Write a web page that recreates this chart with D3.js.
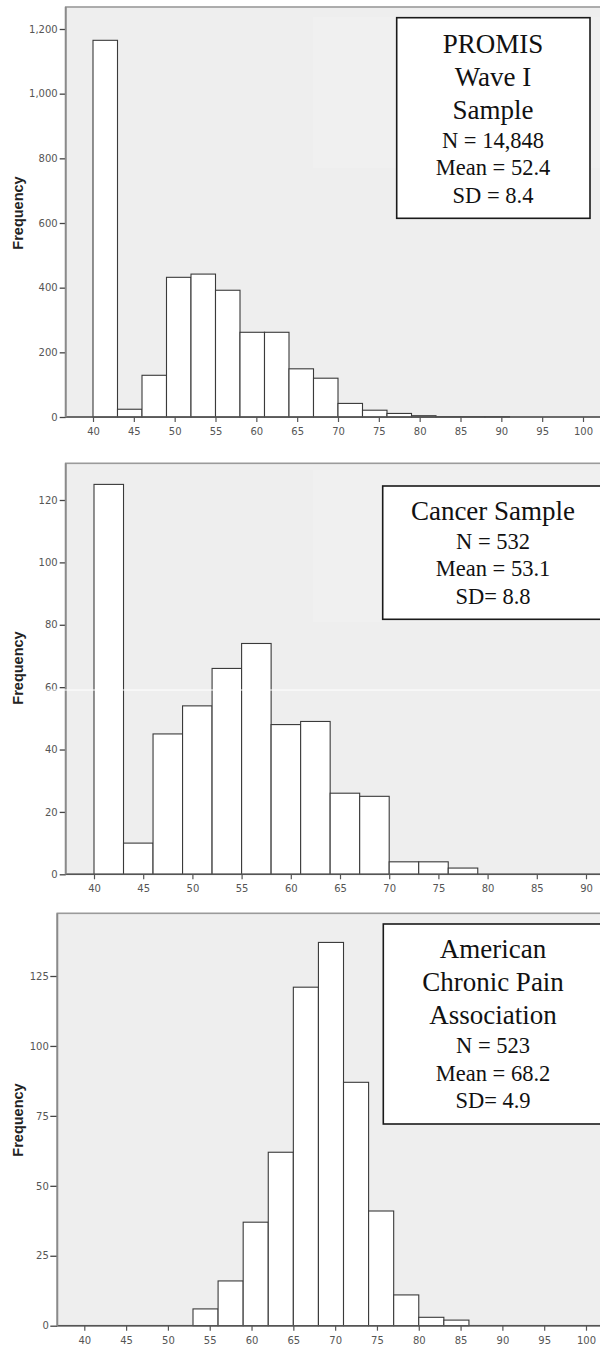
<!DOCTYPE html>
<html>
<head>
<meta charset="utf-8">
<script src="https://cdnjs.cloudflare.com/ajax/libs/d3/7.8.5/d3.min.js"></script>
<style>
  html, body { margin: 0; padding: 0; background: #ffffff; }
  svg { display: block; }
</style>
</head>
<body>
<div id="chart"></div>
<script>
// ---------------- DATA ----------------
const binWidth = 3;

// Panel 1: PROMIS Wave I Sample
const binStarts1 = [40, 43, 46, 49, 52, 55, 58, 61, 64, 67, 70, 73, 76, 79, 82, 85, 88];
const freq1      = [1165, 24, 129, 432, 442, 392, 262, 262, 149, 120, 42, 21, 11, 4, 1, 1, 1];
const xTicks1 = [40, 45, 50, 55, 60, 65, 70, 75, 80, 85, 90, 95, 100];
const yTicks1 = [0, 200, 400, 600, 800, 1000, 1200];
const titleLines1 = ["PROMIS", "Wave I", "Sample"];
const statLines1  = ["N = 14,848", "Mean = 52.4", "SD = 8.4"];

// Panel 2: Cancer Sample
const binStarts2 = [40, 43, 46, 49, 52, 55, 58, 61, 64, 67, 70, 73, 76];
const freq2      = [125, 10, 45, 54, 66, 74, 48, 49, 26, 25, 4, 4, 2];
const xTicks2 = [40, 45, 50, 55, 60, 65, 70, 75, 80, 85, 90];
const yTicks2 = [0, 20, 40, 60, 80, 100, 120];
const titleLines2 = ["Cancer Sample"];
const statLines2  = ["N = 532", "Mean = 53.1", "SD= 8.8"];

// Panel 3: American Chronic Pain Association
const binStarts3 = [53, 56, 59, 62, 65, 68, 71, 74, 77, 80, 83];
const freq3      = [6, 16, 37, 62, 121, 137, 87, 41, 11, 3, 2];
const xTicks3 = [40, 45, 50, 55, 60, 65, 70, 75, 80, 85, 90, 95, 100];
const yTicks3 = [0, 25, 50, 75, 100, 125];
const titleLines3 = ["American", "Chronic Pain", "Association"];
const statLines3  = ["N = 523", "Mean = 68.2", "SD= 4.9"];

const yLabel = "Frequency";

// ---------------- LAYOUT ----------------
const W = 600, H = 1347;
const svg = d3.select("#chart").append("svg")
  .attr("width", W).attr("height", H)
  .attr("viewBox", `0 0 ${W} ${H}`);

svg.append("rect").attr("width", W).attr("height", H).attr("fill", "#ffffff");

const panels = [
  {
    starts: binStarts1, freq: freq1, xTicks: xTicks1, yTicks: yTicks1,
    titles: titleLines1, stats: statLines1,
    xDomain: [40, 100], xRange: [93, 583],
    yDomain: [0, 1200], yRange: [417, 29],
    frameLeft: 65.7, frameTop: 7,
    tickLenY: 6, tickPadY: 2,
    labelY: 213,
    box: { x: 396.7, y: 17.7, w: 193.3, h: 200.6 },
    light: { x: 313, y: 17, w: 300, h: 151 },
    textX: 493, firstBaseline: 52.7
  },
  {
    starts: binStarts2, freq: freq2, xTicks: xTicks2, yTicks: yTicks2,
    titles: titleLines2, stats: statLines2,
    xDomain: [40, 90], xRange: [94, 586],
    yDomain: [0, 120], yRange: [874.3, 500],
    frameLeft: 65.7, frameTop: 463.3,
    tickLenY: 6, tickPadY: 2,
    labelY: 668,
    box: { x: 382.7, y: 486, w: 220, h: 133.3 },
    light: { x: 313, y: 470, w: 300, h: 152 },
    textX: 493, firstBaseline: 520,
    artifactY: 690
  },
  {
    starts: binStarts3, freq: freq3, xTicks: xTicks3, yTicks: yTicks3,
    titles: titleLines3, stats: statLines3,
    xDomain: [40, 100], xRange: [84.3, 586],
    yDomain: [0, 125], yRange: [1325.7, 976],
    frameLeft: 57.3, frameTop: 913.3,
    tickLenY: 7, tickPadY: 1.5,
    labelY: 1120,
    box: { x: 383.3, y: 924, w: 220, h: 200 },
    light: null,
    textX: 493, firstBaseline: 958.3
  }
];

panels.forEach(p => {
  const x = d3.scaleLinear().domain(p.xDomain).range(p.xRange);
  const y = d3.scaleLinear().domain(p.yDomain).range(p.yRange);
  const base = y(0);
  const g = svg.append("g");

  // plot background + frame
  g.append("rect")
    .attr("x", p.frameLeft).attr("y", p.frameTop)
    .attr("width", W + 10 - p.frameLeft).attr("height", base - p.frameTop)
    .attr("fill", "#eeeeee")
    .attr("stroke", "#9a9a9a").attr("stroke-width", 1.6);

  if (p.light) {
    g.append("rect")
      .attr("x", p.light.x).attr("y", p.light.y)
      .attr("width", p.light.w).attr("height", p.light.h)
      .attr("fill", "#f0f0f0");
  }

  // bars
  g.append("g").selectAll("rect")
    .data(p.starts.map((s, i) => ({ s, f: p.freq[i] })))
    .join("rect")
    .attr("x", d => x(d.s))
    .attr("y", d => y(d.f))
    .attr("width", d => x(d.s + binWidth) - x(d.s))
    .attr("height", d => base - y(d.f))
    .attr("fill", "#ffffff")
    .attr("stroke", "#3a3a3a")
    .attr("stroke-width", 1.1);

  // y axis
  const ya = g.append("g")
    .attr("transform", `translate(${p.frameLeft},0)`)
    .call(d3.axisLeft(y).tickValues(p.yTicks).tickFormat(d3.format(","))
      .tickSize(p.tickLenY).tickPadding(p.tickPadY));
  ya.select(".domain").remove();
  ya.selectAll(".tick line").attr("stroke", "#444").attr("stroke-width", 1.3);
  ya.selectAll(".tick text")
    .attr("fill", "#555")
    .style("font-family", "'DejaVu Sans', sans-serif")
    .style("font-size", "10px");

  // x axis
  const xa = g.append("g")
    .attr("transform", `translate(0,${base})`)
    .call(d3.axisBottom(x).tickValues(p.xTicks).tickSize(5).tickPadding(6));
  xa.select(".domain").remove();
  xa.selectAll(".tick line").attr("stroke", "#555").attr("stroke-width", 1.2);
  xa.selectAll(".tick text")
    .attr("fill", "#555")
    .style("font-family", "'DejaVu Sans', sans-serif")
    .style("font-size", "10px");

  // axis lines
  g.append("line")
    .attr("x1", p.frameLeft).attr("x2", W + 5)
    .attr("y1", base).attr("y2", base)
    .attr("stroke", "#555").attr("stroke-width", 1.4);
  g.append("line")
    .attr("x1", p.frameLeft).attr("x2", p.frameLeft)
    .attr("y1", p.frameTop).attr("y2", base)
    .attr("stroke", "#8a8a8a").attr("stroke-width", 1.8);

  // y label
  g.append("text")
    .attr("transform", `translate(18,${p.labelY}) rotate(-90)`)
    .attr("text-anchor", "middle")
    .attr("dominant-baseline", "central")
    .attr("fill", "#222")
    .style("font-family", "'Liberation Sans', Arial, sans-serif")
    .style("font-weight", "bold")
    .style("font-size", "14.5px")
    .text(yLabel);

  // stats box
  g.append("rect")
    .attr("x", p.box.x).attr("y", p.box.y)
    .attr("width", p.box.w).attr("height", p.box.h)
    .attr("fill", "#ffffff")
    .attr("stroke", "#1a1a1a").attr("stroke-width", 1.6);

  const titleStep = 33, gap = 29, statStep = 27.4;
  const tg = g.append("g")
    .style("font-family", "'Liberation Serif', 'Times New Roman', serif")
    .attr("fill", "#111")
    .attr("text-anchor", "middle");
  p.titles.forEach((t, i) => {
    tg.append("text")
      .attr("x", p.textX)
      .attr("y", p.firstBaseline + i * titleStep)
      .style("font-size", "27px")
      .text(t);
  });
  const lastTitle = p.firstBaseline + (p.titles.length - 1) * titleStep;
  p.stats.forEach((t, i) => {
    tg.append("text")
      .attr("x", p.textX)
      .attr("y", lastTitle + gap + i * statStep)
      .style("font-size", "22.5px")
      .text(t);
  });

  if (p.artifactY) {
    g.append("line")
      .attr("x1", 30).attr("x2", W)
      .attr("y1", p.artifactY).attr("y2", p.artifactY)
      .attr("stroke", "#ffffff").attr("stroke-width", 1);
  }
});
</script>
</body>
</html>
